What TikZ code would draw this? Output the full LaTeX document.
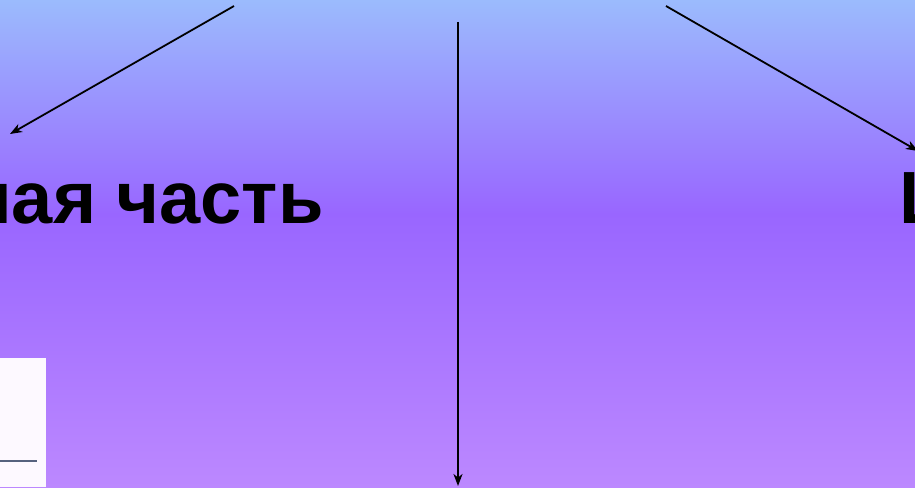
\documentclass[tikz,border=0pt]{standalone}
\usepackage{fontspec}
\setmainfont{Liberation Sans}
\usetikzlibrary{arrows.meta}
\definecolor{bgtop}{HTML}{9BBBFD}
\definecolor{bgmid}{HTML}{9966FF}
\definecolor{bgbot}{HTML}{BC88FF}
\definecolor{panel}{HTML}{FDF9FF}
\definecolor{panelline}{HTML}{56627E}
\tikzset{
  arr/.style={draw=black, line width=1.8pt, -{Stealth[length=12pt,width=9pt,inset=3.5pt]}},
  bigtext/.style={inner sep=0pt, font=\fontsize{74}{80}\selectfont\bfseries, text=black}
}
\begin{document}
\begin{tikzpicture}[x=1pt,y=-1pt]
\useasboundingbox (0,0) rectangle (915,487);
\clip (0,0) rectangle (915,487);
\shade[top color=bgtop, bottom color=bgmid] (0,0) rectangle (915,214);
\shade[top color=bgmid, bottom color=bgbot] (0,213) rectangle (915,487);
% white panel bottom-left
\fill[panel] (0,358) rectangle (46,487);
\draw[panelline, line width=2.6pt] (0,461) -- (37,461);
% texts
\node[bigtext, anchor=base east] (left) at (324,223) {ная часть};
\node[bigtext, anchor=base west] (right) at (899,223) {Ш};
% arrow endpoints
\coordinate (s1) at (234,6);
\coordinate (e1) at (10,134);
\coordinate (s2) at (458,22);
\coordinate (e2) at (458,486);
\coordinate (s3) at (666,6);
\coordinate (e3) at (918,151);
\draw[arr] (s1) -- (e1);
\draw[arr] (s2) -- (e2);
\draw[arr] (s3) -- (e3);
\end{tikzpicture}
\end{document}
